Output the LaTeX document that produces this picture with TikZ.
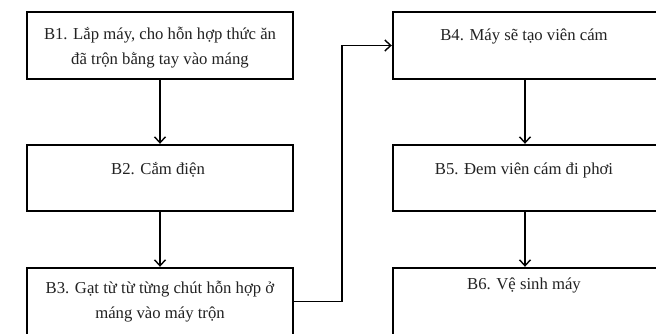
\documentclass[tikz,border=0pt]{standalone}
\usepackage{fontspec}
\setmainfont{Liberation Serif}
\usetikzlibrary{arrows.meta}
\definecolor{txtcol}{HTML}{222222}
\tikzset{
  stepbox/.style={draw=black, line width=2.4pt, rectangle, inner sep=0pt},
  steptext/.style={font=\fontsize{16.7}{25}\selectfont, text=txtcol, align=center, inner sep=0pt},
  conn/.style={draw=black, line width=1.4pt, -{Straight Barb[length=6pt,width=11pt,line width=1.4pt]}}
}
\begin{document}
\begin{tikzpicture}[x=1pt,y=-1pt]
\useasboundingbox (0,0) rectangle (656,333);
\clip (0,0) rectangle (656,333);
\fill[white] (0,0) rectangle (656,333);
% boxes
\node[stepbox, minimum width=266pt, minimum height=67pt] (b1) at (160,45.5) {};
\node[stepbox, minimum width=266pt, minimum height=66pt] (b2) at (160,178) {};
\node[stepbox, minimum width=266pt, minimum height=67pt] (b3) at (160,301.5) {};
\node[stepbox, minimum width=264pt, minimum height=67pt] (b4) at (525,45.5) {};
\node[stepbox, minimum width=264pt, minimum height=66pt] (b5) at (525,178) {};
\node[stepbox, minimum width=264pt, minimum height=67pt] (b6) at (525,301.5) {};
% texts
\node[steptext] (t1) at (160,48) {B1. Lắp máy, cho hỗn hợp thức ăn\\đã trộn bằng tay vào máng};
\node[steptext, anchor=base] (t2) at (158,174) {B2. Cắm điện};
\node[steptext] (t3) at (160,301.5) {B3. Gạt từ từ từng chút hỗn hợp ở\\máng vào máy trộn};
\node[steptext, anchor=base] (t4) at (524,40) {B4. Máy sẽ tạo viên cám};
\node[steptext, anchor=base] (t5) at (524,174) {B5. Đem viên cám đi phơi};
\node[steptext, anchor=base] (t6) at (524,289) {B6. Vệ sinh máy};
% connectors
\draw[conn] (b1.south) -- (b2.north);
\draw[conn] (b2.south) -- (b3.north);
\draw[conn] (b4.south) -- (b5.north);
\draw[conn] (b5.south) -- (b6.north);
\coordinate (elbow) at (342,301.5);
\draw[conn] (b3.east) -- (elbow) |- (b4.west);
\end{tikzpicture}
\end{document}
